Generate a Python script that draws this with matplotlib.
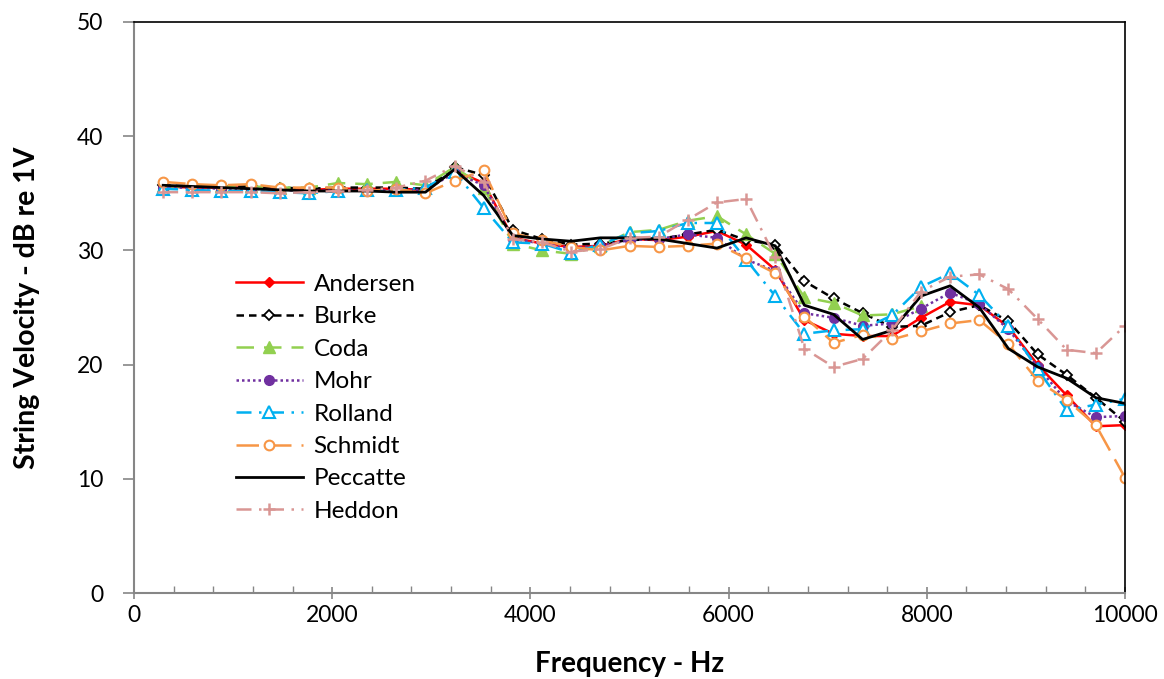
import numpy as np
import matplotlib.pyplot as plt
from matplotlib.ticker import MultipleLocator

# frequency points (Hz), 34 bins up to 10 kHz
freq = np.arange(1, 35) * 10000 / 34

andersen = [35.6, 35.5, 35.5, 35.5, 35.4, 35.3, 35.4, 35.4, 35.4, 35.3,
            37.0, 35.9, 31.1, 30.6, 30.3, 30.4, 31.0, 30.9, 31.2, 31.7,
            30.5, 28.3, 23.9, 22.7, 22.5, 22.5, 24.1, 25.5, 25.2, 23.3,
            20.0, 17.3, 14.6, 14.7]
burke = [35.7, 35.6, 35.6, 35.6, 35.5, 35.4, 35.5, 35.5, 35.5, 35.4,
         37.3, 36.6, 31.8, 31.0, 30.5, 30.6, 30.9, 31.0, 31.4, 31.8,
         30.9, 30.5, 27.3, 25.8, 24.5, 23.3, 23.4, 24.6, 25.2, 23.8,
         20.9, 19.1, 17.1, 15.0]
coda = [35.6, 35.6, 35.6, 35.6, 35.5, 35.5, 35.9, 35.8, 36.0, 35.7,
        37.3, 35.5, 30.6, 30.0, 29.7, 30.4, 31.6, 31.8, 32.6, 33.0,
        31.4, 29.7, 25.9, 25.4, 24.3, 24.4, 25.1, np.nan, np.nan, np.nan,
        np.nan, np.nan, np.nan, np.nan]
mohr = [35.5, 35.5, 35.4, 35.4, 35.3, 35.2, 35.3, 35.2, 35.3, 35.3,
        36.8, 35.7, 31.0, 30.6, 30.2, 30.4, 30.9, 31.0, 31.4, 31.1,
        29.2, 28.2, 24.5, 24.1, 23.4, 23.6, 24.9, 26.3, 25.3, 23.1,
        19.8, 16.8, 15.4, 15.5]
rolland = [35.4, 35.3, 35.2, 35.2, 35.1, 35.0, 35.2, 35.3, 35.3, 35.5,
           36.9, 33.7, 30.7, 30.6, 29.8, 30.5, 31.5, 31.7, 32.4, 32.4,
           29.2, 26.0, 22.7, 23.0, 23.1, 24.3, 26.8, 28.0, 26.1, 23.4,
           19.6, 16.0, 16.5, 17.0]
schmidt = [36.0, 35.8, 35.7, 35.8, 35.5, 35.5, 35.5, 35.2, 35.4, 35.0,
           36.1, 37.0, 31.5, 30.9, 30.3, 30.0, 30.4, 30.3, 30.4, 30.6,
           29.3, 28.0, 24.2, 21.9, 22.6, 22.2, 22.9, 23.6, 23.9, 21.8,
           18.6, 16.9, 14.7, 10.1]
peccatte = [35.7, 35.6, 35.5, 35.4, 35.3, 35.2, 35.2, 35.2, 35.1, 35.1,
            37.1, 34.8, 31.3, 31.0, 30.8, 31.1, 31.1, 31.0, 30.6, 30.2,
            31.1, 30.4, 25.2, 24.4, 22.2, 23.0, 26.0, 26.9, 25.0, 21.4,
            19.8, 18.8, 17.1, 16.6]
heddon = [35.1, 35.1, 35.1, 35.1, 35.0, 35.1, 35.2, 35.3, 35.5, 36.1,
          37.4, 36.0, 31.0, 30.7, 29.9, 30.1, 31.1, 31.2, 32.7, 34.2,
          34.5, 29.4, 21.4, 19.8, 20.5, 23.0, 26.4, 27.7, 27.9, 26.6,
          24.0, 21.3, 21.0, 23.4]

plt.rcParams['font.family'] = ['Lato', 'DejaVu Sans']

fig = plt.figure(figsize=(11.64, 6.79), dpi=100)
ax = fig.add_axes([134 / 1164, 1 - 593 / 679, (1125 - 134) / 1164, (593 - 22) / 679])

lw = 1.8
ax.plot(freq, andersen, color='#FF0000', lw=lw, marker='D', ms=5, label='Andersen')
ax.plot(freq, burke, color='black', lw=lw, ls=(0, (3, 2)), marker='D', ms=5,
        mfc='white', mec='black', mew=1.3, label='Burke')
ax.plot(freq, coda, color='#92D050', lw=lw, ls=(0, (7, 4)), marker='^', ms=8, label='Coda')
ax.plot(freq, mohr, color='#7030A0', lw=lw, ls=(0, (1, 1.2)), marker='o', ms=7, label='Mohr')
ax.plot(freq, rolland, color='#00B0F0', lw=lw, ls=(0, (6, 3, 1, 3)), marker='^', ms=8,
        mfc='white', mec='#00B0F0', mew=1.5, label='Rolland')
ax.plot(freq, schmidt, color='#F79646', lw=lw, ls=(0, (9, 4)), marker='o', ms=7,
        mfc='white', mec='#F79646', mew=1.5, label='Schmidt')
ax.plot(freq, peccatte, color='black', lw=2.0, label='Peccatte')
ax.plot(freq, heddon, color='#D99694', lw=lw, ls=(0, (6, 3, 1, 3)), marker='+', ms=9,
        mew=1.8, label='Heddon')

ax.set_xlim(0, 10000)
ax.set_ylim(0, 50)
ax.xaxis.set_major_locator(MultipleLocator(2000))
ax.xaxis.set_minor_locator(MultipleLocator(400))
ax.yaxis.set_major_locator(MultipleLocator(10))

for side in ['top', 'right']:
    ax.spines[side].set_color('black')
    ax.spines[side].set_linewidth(1.2)
for side in ['left', 'bottom']:
    ax.spines[side].set_color('#868686')
    ax.spines[side].set_linewidth(1.5)

ax.tick_params(axis='x', which='major', direction='inout', length=9, width=1.2,
               color='#868686', labelsize=16.5, pad=4)
ax.tick_params(axis='x', which='minor', direction='in', length=5, width=1,
               color='#868686')
ax.tick_params(axis='y', which='major', direction='out', length=8, width=1.2,
               color='#868686', labelsize=16.5, pad=14)

ax.set_xlabel('Frequency - Hz', fontsize=20, fontweight='bold', labelpad=18)
ax.set_ylabel('String Velocity - dB re 1V', fontsize=20.5, fontweight='bold', labelpad=27)

ax.legend(loc='upper left', bbox_to_anchor=(0.093, 0.576), frameon=False,
          fontsize=17.5, handlelength=2.75, labelspacing=0.47, handletextpad=0.45,
          borderaxespad=0)

fig.savefig('out.png', dpi=100)
